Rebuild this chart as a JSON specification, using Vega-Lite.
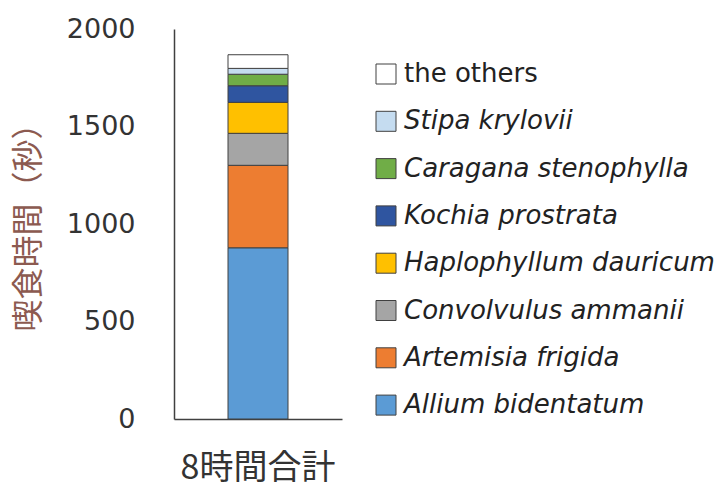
{
  "$schema": "https://vega.github.io/schema/vega-lite/v6.json",
  "autosize": "none",
  "width": 168,
  "height": 390,
  "padding": {"left": 174, "top": 29, "right": 379, "bottom": 71},
  "background": "white",
  "config": {"view": {"stroke": null}},
  "data": {
    "values": [
      {"group": "8時間合計", "species": "Allium bidentatum", "rank": 1, "seconds": 878},
      {"group": "8時間合計", "species": "Artemisia frigida", "rank": 2, "seconds": 423},
      {"group": "8時間合計", "species": "Convolvulus ammanii", "rank": 3, "seconds": 164},
      {"group": "8時間合計", "species": "Haplophyllum dauricum", "rank": 4, "seconds": 159},
      {"group": "8時間合計", "species": "Kochia prostrata", "rank": 5, "seconds": 85},
      {"group": "8時間合計", "species": "Caragana stenophylla", "rank": 6, "seconds": 59},
      {"group": "8時間合計", "species": "Stipa krylovii", "rank": 7, "seconds": 30},
      {"group": "8時間合計", "species": "the others", "rank": 8, "seconds": 70}
    ]
  },
  "mark": {"type": "bar", "size": 60, "stroke": "#404040", "strokeWidth": 1},
  "encoding": {
    "x": {
      "field": "group",
      "type": "nominal",
      "axis": {
        "title": null,
        "labelAngle": 0,
        "ticks": false,
        "labelFont": "Noto Sans CJK JP",
        "labelFontSize": 34,
        "labelColor": "#333333",
        "labelPadding": 32,
        "domainColor": "#404040",
        "domainWidth": 1.5
      }
    },
    "y": {
      "field": "seconds",
      "type": "quantitative",
      "aggregate": "sum",
      "stack": "zero",
      "scale": {"domain": [0, 2000]},
      "axis": {
        "title": "喫食時間（秒）",
        "titleFont": "Noto Sans CJK JP",
        "titleFontSize": 32,
        "titleFontWeight": "normal",
        "titleColor": "#8c5a50",
        "titleAngle": -90,
        "titleX": -146,
        "titleY": 190,
        "titleAlign": "center",
        "titleBaseline": "middle",
        "values": [0, 500, 1000, 1500, 2000],
        "format": "d",
        "grid": false,
        "ticks": false,
        "labelFont": "DejaVu Sans",
        "labelFontSize": 27,
        "labelColor": "#333333",
        "labelPadding": 39,
        "domainColor": "#404040",
        "domainWidth": 1.5
      }
    },
    "order": {"field": "rank", "type": "quantitative"},
    "color": {
      "field": "species",
      "type": "nominal",
      "scale": {
        "domain": ["the others", "Stipa krylovii", "Caragana stenophylla", "Kochia prostrata", "Haplophyllum dauricum", "Convolvulus ammanii", "Artemisia frigida", "Allium bidentatum"],
        "range": ["#ffffff", "#c5dcf0", "#70ad47", "#2f55a0", "#ffc000", "#a5a5a5", "#ed7d31", "#5b9bd5"]
      },
      "legend": {
        "title": null,
        "orient": "none",
        "legendX": 199,
        "legendY": 32,
        "padding": 0,
        "symbolType": "square",
        "symbolSize": 400,
        "symbolStrokeColor": "#404040",
        "symbolStrokeWidth": 1,
        "symbolOpacity": 1,
        "labelFont": "DejaVu Sans",
        "labelFontSize": 26,
        "labelFontStyle": {"expr": "datum.label == 'the others' ? 'normal' : 'italic'"},
        "labelColor": "#222222",
        "labelOffset": 5,
        "labelLimit": 400,
        "rowPadding": 21.3
      }
    }
  }
}
